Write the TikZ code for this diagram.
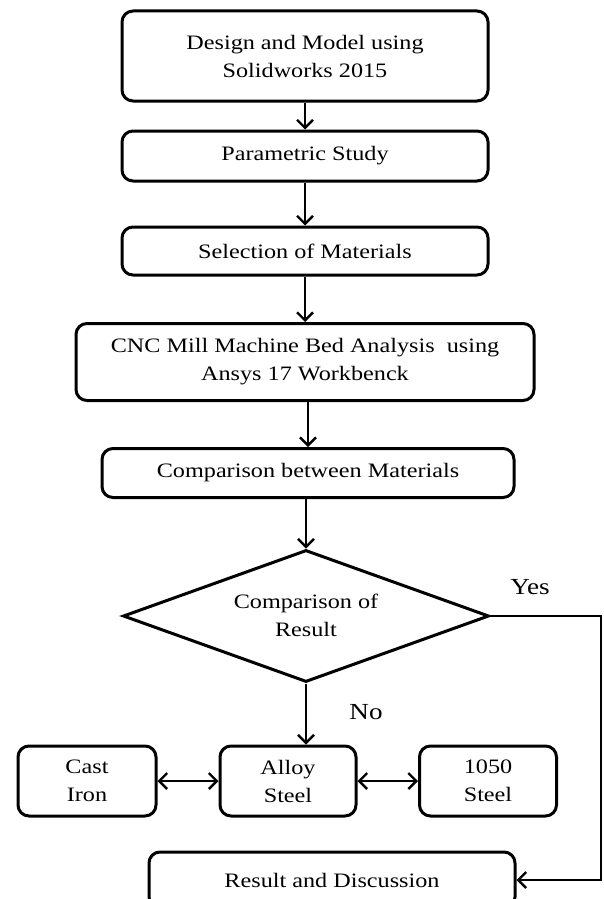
\documentclass[tikz,border=0pt]{standalone}
\usepackage{fontspec}
\setmainfont{Liberation Serif}
\newfontfamily\widefont[FakeStretch=1.18]{Liberation Serif}
\usetikzlibrary{shapes.geometric,arrows.meta}
\begin{document}
\begin{tikzpicture}[x=1pt,y=-1pt,
  box/.style={draw=black,line width=3pt,rounded corners=11pt,align=center,
    font=\widefont\fontsize{20.5}{28}\selectfont,inner sep=0pt},
  lbl/.style={font=\widefont\fontsize{23}{28}\selectfont,inner sep=0pt},
  arr/.style={line width=2.4pt,-{Straight Barb[length=8pt,width=16pt,line width=2.4pt]}},
  darr/.style={line width=2.4pt,{Straight Barb[length=8pt,width=16pt,line width=2.4pt]}-{Straight Barb[length=8pt,width=16pt,line width=2.4pt]}}
]
\useasboundingbox (0,0) rectangle (603,899);
\node[box,minimum width=366pt,minimum height=90pt] (b1) at (305,56) {Design and Model using\\Solidworks 2015};
\node[box,minimum width=366pt,minimum height=50pt] (b2) at (305,156) {Parametric Study};
\node[box,minimum width=366pt,minimum height=48pt] (b3) at (305,251) {Selection of Materials};
\node[box,minimum width=458pt,minimum height=77pt] (b4) at (305,362) {CNC Mill Machine Bed Analysis~ using\\Ansys 17 Workbenck};
\node[box,minimum width=412pt,minimum height=49pt] (b5) at (308,473) {Comparison between Materials};
\node[draw=black,line width=3pt,diamond,aspect=2.75,minimum width=366pt,minimum height=132pt,inner sep=0pt] (d) at (306,616) {};
\node[align=center,font=\widefont\fontsize{20.5}{28}\selectfont] (dt) at (306,615) {Comparison of\\Result};
\node[box,minimum width=138pt,minimum height=70pt] (ci) at (87,781) {Cast\\Iron};
\node[box,minimum width=136pt,minimum height=70pt] (as) at (288,781) {Alloy\\Steel};
\node[box,minimum width=137pt,minimum height=70pt] (st) at (488,781) {1050\\Steel};
\node[box,minimum width=366pt,minimum height=56pt] (rd) at (332,880) {Result and Discussion};
\node[lbl] (yes) at (530,587) {Yes};
\node[lbl] (no) at (366,712) {No};
\coordinate (c1) at (601,616);
\coordinate (c2) at (601,880);
\draw[arr] (b1.south) -- (b2.north);
\draw[arr] (b2.south) -- (b3.north);
\draw[arr] (b3.south) -- (b4.north);
\draw[arr] (b5.north |- b4.south) -- (b5.north);
\draw[arr] (d.north |- b5.south) -- (d.north);
\draw[arr] (d.south) -- (d.south |- as.north);
\draw[darr] (ci.east) -- (as.west);
\draw[darr] (as.east) -- (st.west);
\draw[arr] (d.east) -- (c1) -- (c2) -- (rd.east);
\end{tikzpicture}
\end{document}
